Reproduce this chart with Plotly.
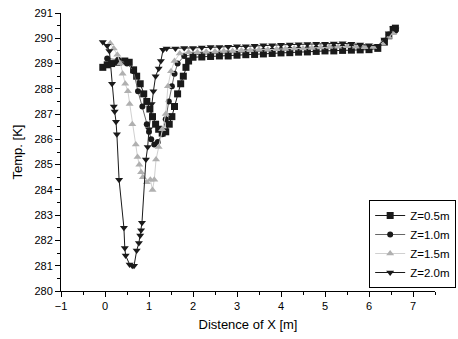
import plotly.graph_objects as go

# ---- data ----
x_05 = [-0.05, 0.05, 0.15, 0.3, 0.45, 0.55, 0.65, 0.72, 0.8, 0.88, 0.95, 1.02, 1.08, 1.15, 1.22, 1.3,
        1.38, 1.46, 1.52, 1.58, 1.65, 1.72, 1.78, 1.84, 1.9,
        2.0, 2.2, 2.4, 2.6, 2.8, 3.0, 3.2, 3.4, 3.6, 3.8, 4.0, 4.2, 4.4, 4.6, 4.8, 5.0, 5.2, 5.4, 5.6,
        5.8, 6.0, 6.2, 6.35, 6.45, 6.55, 6.6]
t_05 = [288.85, 288.95, 289.0, 289.05, 289.1, 289.05, 288.75, 288.5, 288.2, 287.8, 287.5, 287.2, 286.9,
        286.6, 286.4, 286.25, 286.3, 286.6, 286.9, 287.3, 287.8, 288.2, 288.5, 288.85, 289.1,
        289.25, 289.26, 289.28, 289.3, 289.3, 289.33, 289.35, 289.36, 289.38, 289.4, 289.42, 289.43,
        289.45, 289.46, 289.48, 289.5, 289.5, 289.52, 289.53, 289.54, 289.55, 289.6, 289.85, 290.1,
        290.35, 290.4]

x_10 = [0.05, 0.3, 0.5, 0.65, 0.75, 0.85, 0.95, 1.0, 1.05, 1.12, 1.2, 1.3, 1.38, 1.45, 1.52, 1.58, 1.65,
        1.8, 2.0, 2.2, 2.4, 2.6, 2.8, 3.0, 3.2, 3.4, 3.6, 3.8, 4.0, 4.2, 4.4, 4.6, 4.8, 5.0, 5.2, 5.4,
        5.6, 5.8, 6.0, 6.2, 6.35, 6.45, 6.55, 6.6]
t_10 = [289.2, 289.15, 289.0, 288.7, 287.9, 287.3, 286.6, 286.3, 286.0, 285.8, 285.9, 286.2, 286.8,
        287.5, 288.1, 288.6, 289.0, 289.3, 289.35, 289.36, 289.38, 289.4, 289.42, 289.44, 289.46,
        289.48, 289.5, 289.52, 289.54, 289.55, 289.57, 289.58, 289.6, 289.62, 289.63, 289.65,
        289.64, 289.62, 289.6, 289.62, 289.9, 290.15, 290.3, 290.3]

x_15 = [0.12, 0.2, 0.28, 0.35, 0.4, 0.46, 0.52, 0.56, 0.62, 0.7, 0.74, 0.78, 0.82, 0.86, 0.95, 1.03,
        1.08, 1.12, 1.16, 1.22, 1.3, 1.38, 1.43, 1.5, 1.58,
        1.7, 1.9, 2.1, 2.3, 2.5, 2.7, 2.9, 3.1, 3.3, 3.5, 3.7, 3.9, 4.1, 4.3, 4.5, 4.7, 4.9, 5.1, 5.3,
        5.5, 5.7, 5.9, 6.1, 6.3, 6.45, 6.55]
t_15 = [289.8, 289.6, 289.35, 289.0, 288.6, 288.2, 287.9, 287.4, 286.6, 285.8, 285.3, 285.0, 284.7,
        284.5, 284.3, 284.4, 284.0, 284.4, 285.2, 285.7, 286.4, 287.0, 288.1, 288.7, 289.1,
        289.4, 289.45, 289.45, 289.47, 289.48, 289.5, 289.5, 289.52, 289.53, 289.55, 289.55, 289.57,
        289.58, 289.6, 289.6, 289.62, 289.63, 289.65, 289.66, 289.68, 289.66, 289.64, 289.65, 289.8,
        290.05, 290.2]

x_20 = [-0.05, 0.05, 0.1, 0.16, 0.2, 0.22, 0.25, 0.27, 0.32, 0.43, 0.45, 0.47, 0.56, 0.62, 0.66, 0.72,
        0.77, 0.8, 0.82, 0.84, 0.93, 0.97, 1.0, 1.06, 1.1, 1.15, 1.22, 1.27, 1.32,
        1.4, 1.6, 1.8, 2.0, 2.2, 2.4, 2.6, 2.8, 3.0, 3.2, 3.4, 3.6, 3.8, 4.0, 4.2, 4.4, 4.6, 4.8, 5.0,
        5.2, 5.4, 5.6, 5.8, 6.0, 6.2, 6.35, 6.45, 6.55, 6.6]
t_20 = [289.85, 289.7, 289.5, 288.2, 287.3, 287.1, 286.7, 286.2, 284.4, 282.5, 281.7, 281.4, 281.05,
        281.0, 281.0, 281.6, 281.9, 282.2, 282.4, 282.7, 285.2, 285.7, 286.4, 287.4, 287.9, 288.5,
        288.8, 289.1, 289.55,
        289.6, 289.6, 289.62, 289.62, 289.63, 289.65, 289.65, 289.66, 289.68, 289.68, 289.7, 289.72,
        289.72, 289.74, 289.75, 289.76, 289.77, 289.78, 289.78, 289.79, 289.8, 289.78, 289.75, 289.72,
        289.7, 289.95, 290.2, 290.4, 290.35]

series = [
    ("Z=0.5m", x_05, t_05, "square", 7, "#1a1a1a", "#1a1a1a"),
    ("Z=1.0m", x_10, t_10, "circle", 6, "#1a1a1a", "#666666"),
    ("Z=1.5m", x_15, t_15, "triangle-up", 7, "#b0b0b0", "#d0d0d0"),
    ("Z=2.0m", x_20, t_20, "triangle-down", 7, "#1a1a1a", "#1a1a1a"),
]

fig = go.Figure()
for name, xs, ts, sym, size, mcol, lcol in series:
    fig.add_trace(go.Scatter(
        x=xs, y=ts, name=name, mode="lines+markers",
        line=dict(color=lcol, width=1),
        marker=dict(symbol=sym, size=size, color=mcol, line=dict(width=0)),
    ))

axis_common = dict(
    showgrid=False, zeroline=False, showline=True, linecolor="black", linewidth=1,
    ticks="outside", ticklen=5, tickwidth=1, tickcolor="black",
    tickfont=dict(family="Liberation Sans, Arial", size=11, color="black"),
    mirror=False, automargin=False,
)

fig.update_layout(
    width=458, height=339,
    margin=dict(l=61, r=23, t=13, b=48, autoexpand=False),
    paper_bgcolor="white", plot_bgcolor="white",
    font=dict(family="Liberation Sans, Arial", color="black"),
    xaxis=dict(range=[-1, 7.5], dtick=1, tick0=0,
               minor=dict(ticks="outside", ticklen=3, dtick=0.5, tickcolor="black"),
               title=dict(text="Distence of X [m]", font=dict(size=13), standoff=8),
               **axis_common),
    yaxis=dict(range=[280, 291], dtick=1, tick0=280,
               minor=dict(ticks="outside", ticklen=3, dtick=0.5, tickcolor="black"),
               title=dict(text="Temp. [K]", font=dict(size=13), standoff=8),
               **axis_common),
    legend=dict(xref="container", yref="container", x=0.996, xanchor="right",
                y=0.41, yanchor="top",
                bordercolor="black", borderwidth=1, bgcolor="white",
                font=dict(size=11.5), tracegroupgap=0, itemwidth=30),
    showlegend=True,
)

fig.write_html("out.html")
